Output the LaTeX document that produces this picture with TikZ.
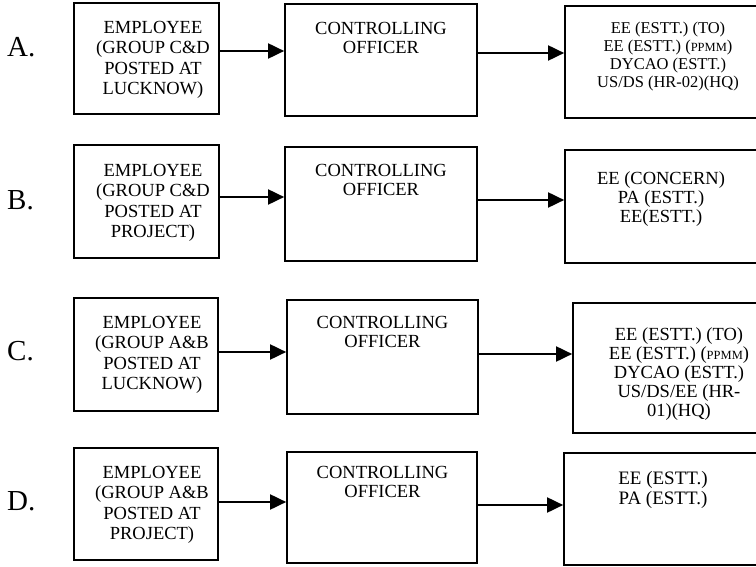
\documentclass[tikz,border=0pt]{standalone}
\usepackage{fontspec}
\setmainfont{Liberation Serif}
\usetikzlibrary{arrows.meta,fit}
\tikzset{
  box/.style={draw=black, line width=1.7pt, inner sep=0pt},
  tx/.style={anchor=north, align=center, inner sep=0pt, text=black},
  etxt/.style={tx, font=\fontsize{18.5}{20.5}\selectfont},
  ctxt/.style={tx, font=\fontsize{18.5}{19}\selectfont},
  rtxt/.style={tx, font=\fontsize{18.5}{19}\selectfont},
  lbl/.style={anchor=base west, inner sep=0pt, font=\fontsize{29}{29}\selectfont},
  arr/.style={line width=1.9pt, -{Triangle[length=16pt,width=15pt]}}
}
\newcommand{\smc}[1]{{\fontsize{12.5}{12.5}\selectfont #1}}
\begin{document}
\begin{tikzpicture}[x=1pt,y=-1pt]
\useasboundingbox (0,0) rectangle (756,567);
\fill[white] (0,0) rectangle (756,567);
\begin{scope}
\clip (0,0) rectangle (756,567);
% Row A
\node[box, fit={(74,3) (219,114)}] (eA) {};
\node[box, fit={(285,4) (477,116)}] (cA) {};
\node[box, fit={(565,6) (772,118)}] (rA) {};
% Row B
\node[box, fit={(74,145) (219,258)}] (eB) {};
\node[box, fit={(285,147) (477,261)}] (cB) {};
\node[box, fit={(565,150) (772,263)}] (rB) {};
% Row C
\node[box, fit={(74,298) (218,411)}] (eC) {};
\node[box, fit={(287,300) (478,414)}] (cC) {};
\node[box, fit={(573,303) (785,433)}] (rC) {};
% Row D
\node[box, fit={(74,448) (218,560)}] (eD) {};
\node[box, fit={(287,452) (477,563)}] (cD) {};
\node[box, fit={(564,453) (772,565)}] (rD) {};
\end{scope}

% labels
\node[lbl] (lA) at (7,57) {A.};
\node[lbl] (lB) at (7,210) {B.};
\node[lbl] (lC) at (7,360) {C.};
\node[lbl] (lD) at (7,510) {D.};

% employee texts
\node[etxt] (teA) at (153,21) {EMPLOYEE\\(GROUP C\&D\\POSTED AT\\LUCKNOW)};
\node[etxt] (teB) at (153,164) {EMPLOYEE\\(GROUP C\&D\\POSTED AT\\PROJECT)};
\node[etxt] (teC) at (152,316) {EMPLOYEE\\(GROUP A\&B\\POSTED AT\\LUCKNOW)};
\node[etxt] (teD) at (152,466) {EMPLOYEE\\(GROUP A\&B\\POSTED AT\\PROJECT)};

% controlling texts
\node[ctxt] (tcA) at (381,22) {CONTROLLING\\OFFICER};
\node[ctxt] (tcB) at (381,164) {CONTROLLING\\OFFICER};
\node[ctxt] (tcC) at (382.5,316) {CONTROLLING\\OFFICER};
\node[ctxt] (tcD) at (382.5,466) {CONTROLLING\\OFFICER};

% right texts
\node[tx, font=\fontsize{16.5}{18}\selectfont] (trA) at (668,22) {EE (ESTT.) (TO)\\EE (ESTT.) (\smc{PPMM})\\DYCAO (ESTT.)\\US/DS (HR-02)(HQ)};
\node[rtxt] (trB) at (661,171) {EE (CONCERN)\\PA (ESTT.)\\EE(ESTT.)};
\node[rtxt] (trC) at (679,327) {EE (ESTT.) (TO)\\EE (ESTT.) (\smc{PPMM})\\DYCAO (ESTT.)\\US/DS/EE (HR-\\01)(HQ)};
\node[tx, font=\fontsize{19}{20}\selectfont] (trD) at (663,471) {EE (ESTT.)\\PA (ESTT.)};

% arrow heights
\coordinate (yA1) at (0,51); \coordinate (yA2) at (0,53);
\coordinate (yB1) at (0,197); \coordinate (yB2) at (0,200);
\coordinate (yC1) at (0,352); \coordinate (yC2) at (0,354);
\coordinate (yD1) at (0,502); \coordinate (yD2) at (0,505);

\draw[arr] (eA.east |- yA1) -- (cA.west |- yA1);
\draw[arr] (cA.east |- yA2) -- (rA.west |- yA2);
\draw[arr] (eB.east |- yB1) -- (cB.west |- yB1);
\draw[arr] (cB.east |- yB2) -- (rB.west |- yB2);
\draw[arr] (eC.east |- yC1) -- (cC.west |- yC1);
\draw[arr] (cC.east |- yC2) -- (rC.west |- yC2);
\draw[arr] (eD.east |- yD1) -- (cD.west |- yD1);
\draw[arr] (cD.east |- yD2) -- (rD.west |- yD2);
\end{tikzpicture}
\end{document}
